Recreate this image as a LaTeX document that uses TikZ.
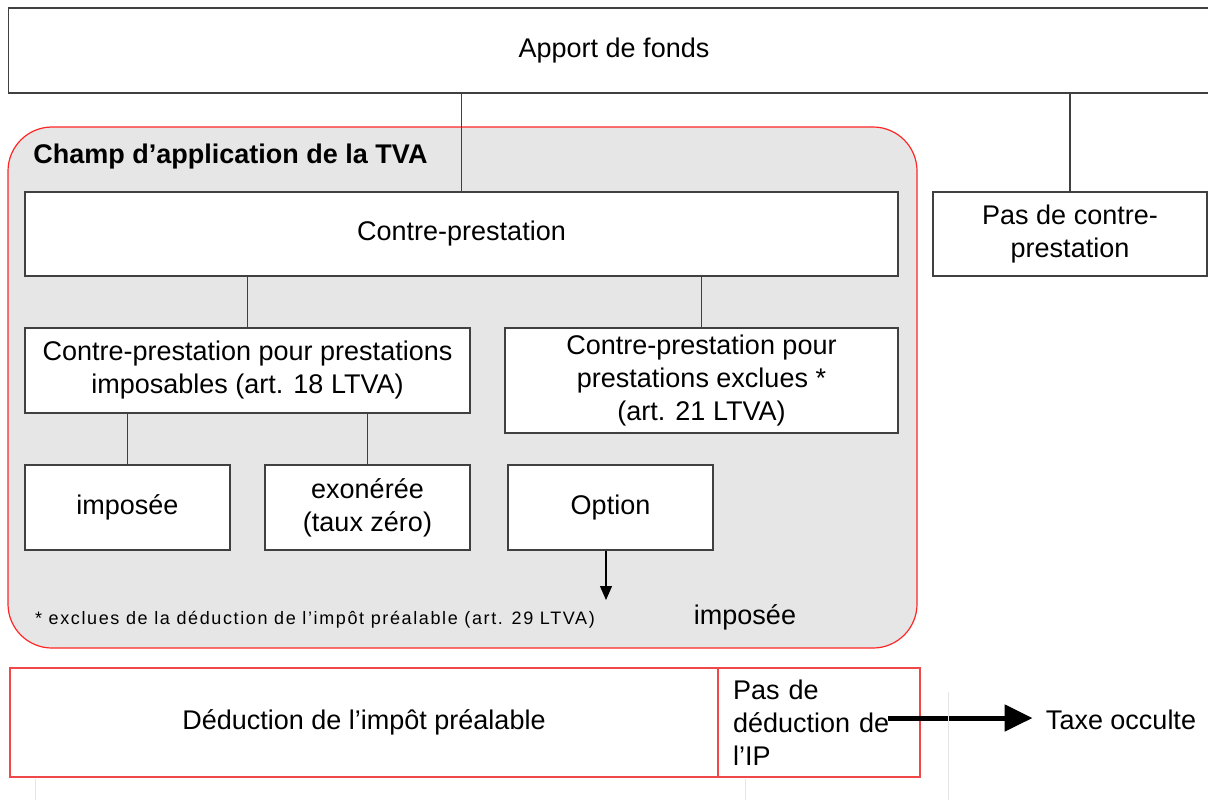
\documentclass[tikz,border=0pt]{standalone}
\usepackage{fontspec}
\setmainfont{Liberation Sans}
\usetikzlibrary{arrows.meta}
\definecolor{fieldgray}{HTML}{E6E6E6}
\definecolor{linegray}{HTML}{404040}
\definecolor{redline}{HTML}{F04848}
\newcommand{\diagfont}{\fontsize{13.5}{16.5}\selectfont}
\newcommand{\notefont}{\fontsize{9}{10}\selectfont\addfontfeature{LetterSpace=9}}
\tikzstyle{box_normal} = [rectangle, draw=linegray, line width=0.8pt, fill=white, inner sep=0pt, align=center]
\tikzstyle{box_red} = [rectangle, draw=redline, line width=0.9pt, fill=white, inner sep=0pt, align=center]
\tikzstyle{box_field} = [rectangle, rounded corners=22pt, draw=red!85, line width=0.6pt, fill=fieldgray, inner sep=0pt]
\tikzstyle{text_plain} = [inner sep=0pt]
\tikzstyle{edge_normal} = [draw=linegray, line width=0.7pt]
\tikzstyle{edge_arrow} = [black, line width=0.6pt, -{Triangle[length=7pt,width=6pt]}]
\tikzstyle{edge_bold} = [black, line width=2.5pt, -{Triangle[length=14pt,width=13pt]}]
\tikzstyle{edge_faint} = [gray!20, line width=0.5pt]

\begin{document}
\begin{tikzpicture}[x=0.5pt, y=-0.5pt, font=\diagfont]
			\useasboundingbox (0,0) rectangle (1208,800);
			\node (AF) at (614,50.5) [box_normal, minimum width=605.5pt, minimum height=42.5pt] {Apport de fonds};
			\node (CH) at (462.5,387.5) [box_field, minimum width=454.5pt, minimum height=260.5pt] {};
			\node (TI) at (33,157) [text_plain, anchor=west, font=\diagfont\bfseries] {Champ d’application de la TVA};
			
			\node (CP) at (461.5,234) [box_normal, minimum width=436.5pt, minimum height=42pt] {Contre-prestation};
			\node (PC) at (1070,234) [box_normal, minimum width=137pt, minimum height=42pt] {Pas de contre-\\prestation};
			\node (CI) at (247.5,370.5) [box_normal, minimum width=222.5pt, minimum height=42.5pt] {Contre-prestation pour prestations\\imposables (art. 18 LTVA)};
			\node (CE) at (701.5,380.5) [box_normal, minimum width=196.5pt, minimum height=52.5pt] {Contre-prestation pour\\prestations exclues *\\(art. 21 LTVA)};
			\node (IM) at (127.5,507.5) [box_normal, minimum width=102.5pt, minimum height=42.5pt] {imposée};
			\node (EX) at (367.5,507.5) [box_normal, minimum width=102.5pt, minimum height=42.5pt] {exonérée\\(taux zéro)};
			\node (OP) at (610.5,507.5) [box_normal, minimum width=102.5pt, minimum height=42.5pt] {Option};
			\node (FN) at (315,620) [text_plain, font=\notefont] {* exclues de la déduction de l’impôt préalable (art. 29 LTVA)};
			\node (IO) at (745,617) [text_plain] {imposée};
			
			\node (DI) at (364,722.5) [box_red, minimum width=354pt, minimum height=54.5pt] {Déduction de l’impôt préalable};
			\node (PD) at (819,722.5) [box_red, minimum width=101pt, minimum height=54.5pt, inner xsep=7.5pt, text width=86pt, align=left] {Pas de\\déduction de\\l’IP};
			\node (TO) at (1121,720) [text_plain, inner sep=6.5pt] {Taxe occulte};
			\coordinate (OE) at (606,600);
			\coordinate (PE) at (888,718);
			
			\draw[edge_normal] (AF.south -| CP.north)--(CP.north) (AF.south -| PC.north)--(PC.north);
			\draw[edge_normal] (CP.south -| CI.north)--(CI.north) (CP.south -| CE.north)--(CE.north);
			\draw[edge_normal] (CI.south -| IM.north)--(IM.north) (CI.south -| EX.north)--(EX.north);
			\draw[edge_arrow] (OP.south -| OE)--(OE);
			\draw[edge_bold] (PE)--(PE -| TO.west);
			\draw[edge_faint] (35,779)--(35,800) (745,779)--(745,800) (948,692)--(948,800);
		\end{tikzpicture}
\end{document}
